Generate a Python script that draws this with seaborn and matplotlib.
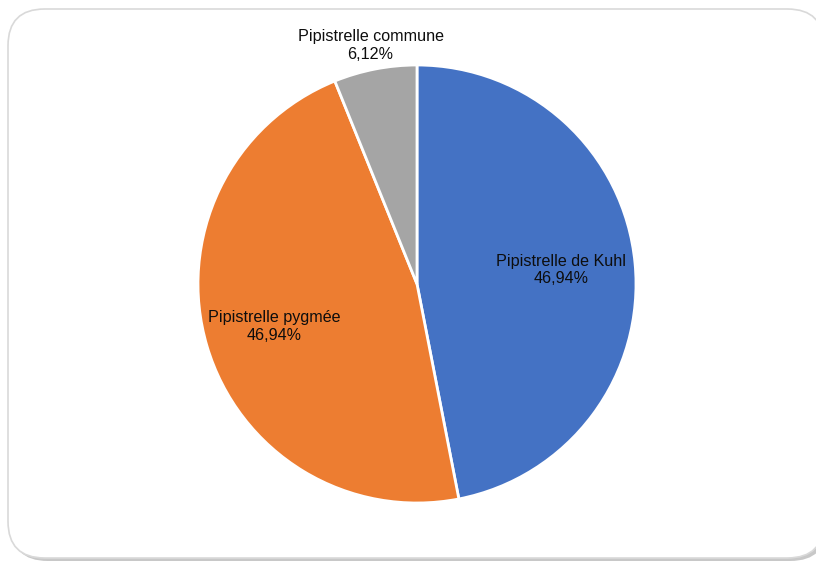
import numpy as np
import matplotlib
matplotlib.use("Agg")
import matplotlib.pyplot as plt
from matplotlib.patches import FancyBboxPatch
import seaborn as sns

# Bat species recorded and number of contacts
species = ["Pipistrelle de Kuhl", "Pipistrelle pygmée", "Pipistrelle commune"]
counts = [23, 23, 3]
colors = ["#4472C4", "#ED7D31", "#A5A5A5"]
label_radius = [0.66, 0.68, 1.11]

sns.set_theme(style="white")
plt.rcParams["font.family"] = ["Liberation Sans", "DejaVu Sans"]

W, H = 816, 561
fig = plt.figure(figsize=(W / 100, H / 100), dpi=100)
fig.patch.set_facecolor("white")

# Rounded chart area with soft shadow
box = dict(boxstyle="round,pad=0,rounding_size=0.045",
           transform=fig.transFigure, mutation_aspect=W / H)
shadow = FancyBboxPatch((11 / W, 0 / H), 816 / W, 549 / H,
                        facecolor="#c8c8c8", edgecolor="none", zorder=0, **box)
frame = FancyBboxPatch((8 / W, 3 / H), 816 / W, 549 / H,
                       facecolor="white", edgecolor="#d9d9d9", linewidth=1.2,
                       zorder=1, **box)
fig.patches.extend([shadow, frame])

ax = fig.add_axes([0, 0, 1, 1])
ax.set_facecolor("none")
ax.set_zorder(2)

cx, cy, R = 417, 284, 219
wedges, _ = ax.pie(counts, colors=colors, startangle=90, counterclock=False,
                   radius=1, wedgeprops=dict(edgecolor="white", linewidth=2))

total = sum(counts)
for w, name, n, r in zip(wedges, species, counts, label_radius):
    mid = np.deg2rad((w.theta1 + w.theta2) / 2)
    pct = f"{100 * n / total:.2f}".replace(".", ",") + "%"
    ax.text(r * np.cos(mid), r * np.sin(mid), f"{name}\n{pct}",
            ha="center", va="center", fontsize=11.6, color="#0d0d0d",
            linespacing=1.2)

ax.set_xlim(-cx / R, (W - cx) / R)
ax.set_ylim(-(H - cy) / R, cy / R)
ax.set_aspect("auto")
ax.axis("off")

fig.savefig("out.png", dpi=100, facecolor="white")
